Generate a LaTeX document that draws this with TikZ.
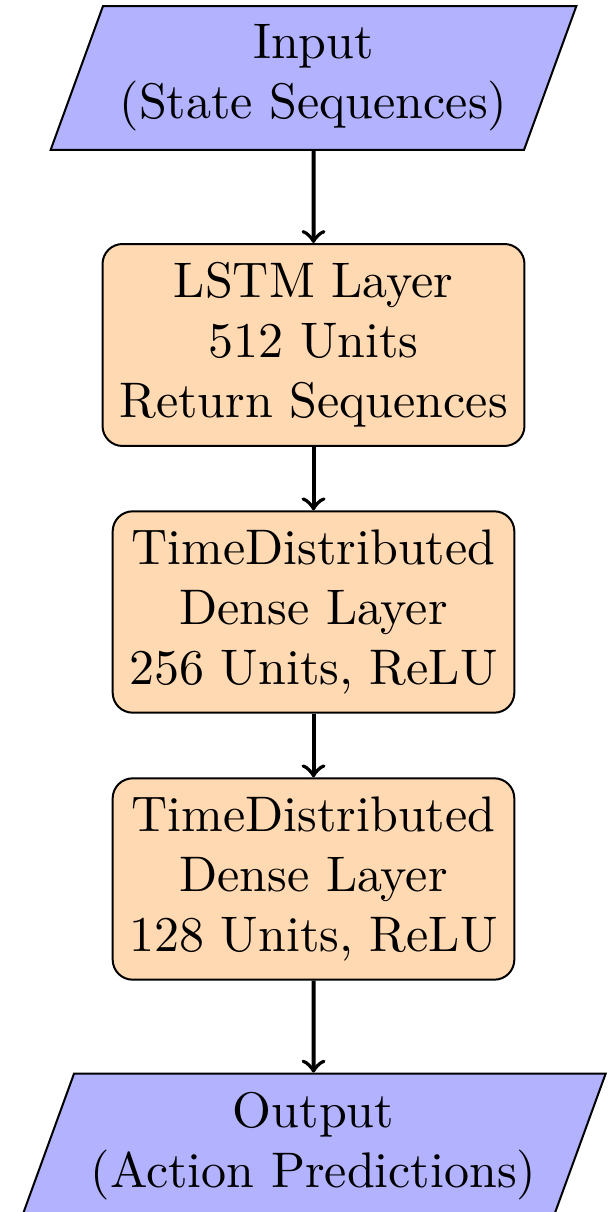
\documentclass[tikz,border=0pt]{standalone}
\usetikzlibrary{shapes.geometric}

\begin{document}
\begin{tikzpicture}[node distance=53.4pt,
  io/.style={trapezium,trapezium left angle=70,trapezium right angle=110,draw,fill=blue!30,align=center,inner ysep=3.7pt},
  layer/.style={rectangle,rounded corners,draw,fill=orange!30,align=center,inner ysep=3.7pt},
  fleche/.style={thick,->}]
\useasboundingbox (-62.7pt,15.6pt) rectangle (59.9pt,-226.8pt);
\node[io] (in) at (0,0) {Input\\(State Sequences)};
\node[layer,below of=in] (lstm) {LSTM Layer\\512 Units\\Return Sequences};
\node[layer,below of=lstm] (dense1) {TimeDistributed\\Dense Layer\\256 Units, ReLU};
\node[layer,below of=dense1] (dense2) {TimeDistributed\\Dense Layer\\128 Units, ReLU};
\node[io,below of=dense2] (out) {Output\\(Action Predictions)};
\draw[fleche] (in) -- (lstm);
\draw[fleche] (lstm) -- (dense1);
\draw[fleche] (dense1) -- (dense2);
\draw[fleche] (dense2) -- (out);
\end{tikzpicture}
\end{document}
